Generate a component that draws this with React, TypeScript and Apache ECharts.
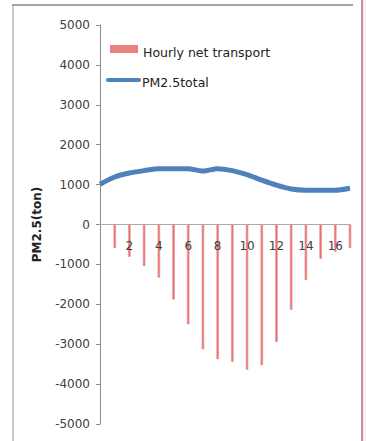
import React, { useEffect, useRef } from "react";
import * as echarts from "echarts";

// Hour index along the x axis
const hours = ["0", "1", "2", "3", "4", "5", "6", "7", "8", "9", "10", "11", "12", "13", "14", "15", "16", "17"];
// Hourly net transport of PM2.5 (ton); no value for the starting hour
const netTransport: (number | null)[] = [
  null, -585, -810, -1040, -1330, -1880, -2500, -3125, -3375, -3440, -3640,
  -3525, -2940, -2140, -1390, -860, -680, -585,
];
// Total PM2.5 mass (ton)
const pm25Total = [
  1010, 1190, 1290, 1350, 1400, 1400, 1400, 1340, 1400, 1350, 1250, 1110, 985,
  890, 860, 860, 860, 910,
];
const yTicks = { min: -5000, max: 5000, interval: 1000 };
const legendNames = ["Hourly net transport", "PM2.5total"];

const FONT = "DejaVu Sans";
const GRID_TOP = 25;
const GRID_BOTTOM = 17;
const CHART_H = 441;

export default function App() {
  const ref = useRef<HTMLDivElement>(null);

  useEffect(() => {
    if (!ref.current) return;
    const chart = echarts.init(ref.current, undefined, { renderer: "svg" });

    const barColor = new echarts.graphic.LinearGradient(0, 0, 1, 0, [
      { offset: 0, color: "#f7c4c4" },
      { offset: 0.5, color: "#e56a6a" },
      { offset: 1, color: "#f7c4c4" },
    ]);

    // the category axis sits on the zero line, halfway up the symmetric value range
    const plotH = CHART_H - GRID_TOP - GRID_BOTTOM;
    const zeroOffset =
      -plotH * ((0 - yTicks.min) / (yTicks.max - yTicks.min));

    chart.setOption({
      animation: false,
      backgroundColor: "#ffffff",
      grid: {
        left: 100,
        right: 16,
        top: GRID_TOP,
        bottom: GRID_BOTTOM,
        containLabel: false,
        outerBoundsMode: "none",
      },
      xAxis: {
        type: "category",
        data: hours,
        boundaryGap: false,
        position: "bottom",
        offset: zeroOffset,
        z: 10,
        splitLine: { show: false },
        axisLine: { onZero: false, lineStyle: { color: "#aaaaaa", width: 1 } },
        axisTick: { show: false },
        axisLabel: {
          margin: 15,
          color: "#404040",
          fontFamily: FONT,
          fontSize: 12,
          interval: (index: number) => index > 0 && index % 2 === 0,
        },
      },
      yAxis: {
        type: "value",
        min: yTicks.min,
        max: yTicks.max,
        interval: yTicks.interval,
        splitLine: { show: false },
        axisLine: { show: true, onZero: false, lineStyle: { color: "#8c8c8c", width: 1 } },
        axisTick: { show: true, length: 4, lineStyle: { color: "#8c8c8c" } },
        axisLabel: {
          margin: 10,
          color: "#404040",
          fontFamily: FONT,
          fontSize: 12,
          formatter: (v: number) => String(v),
        },
        name: "PM2.5(ton)",
        nameLocation: "middle",
        nameGap: 57,
        nameTextStyle: {
          fontFamily: FONT,
          fontSize: 12,
          fontWeight: "bold",
          color: "#222222",
        },
      },
      series: [
        {
          name: legendNames[0],
          type: "bar",
          barWidth: 3,
          itemStyle: { color: barColor },
          data: netTransport,
        },
        {
          name: legendNames[1],
          type: "line",
          symbol: "none",
          smooth: 0.25,
          lineStyle: { color: "#4f81bd", width: 5, cap: "butt", join: "round" },
          data: pm25Total,
        },
      ],
      graphic: [
        // outer frame pieces
        { type: "rect", shape: { x: 12, y: 4, width: 2, height: 437 }, style: { fill: "#cccccc" }, silent: true },
        { type: "rect", shape: { x: 12, y: 4, width: 341, height: 2 }, style: { fill: "#a2a2a2" }, silent: true },
        { type: "rect", shape: { x: 361, y: 0, width: 2, height: 441 }, style: { fill: "#d9879a" }, silent: true },
        { type: "rect", shape: { x: 363, y: 0, width: 3, height: 441 }, style: { fill: "#f2f2f2" }, silent: true },
        // legend
        {
          type: "rect",
          shape: { x: 110, y: 45, width: 28, height: 8 },
          style: { fill: "#ec8181" },
        },
        {
          type: "text",
          x: 143,
          y: 52,
          style: { text: legendNames[0], font: `12.5px '${FONT}'`, fill: "#222222", verticalAlign: "middle" },
        },
        {
          type: "line",
          shape: { x1: 108, y1: 80, x2: 139, y2: 80 },
          style: { stroke: "#4f81bd", lineWidth: 4, lineCap: "round" },
        },
        {
          type: "text",
          x: 142,
          y: 82,
          style: { text: legendNames[1], font: `12.5px '${FONT}'`, fill: "#222222", verticalAlign: "middle" },
        },
      ],
    });

    return () => chart.dispose();
  }, []);

  return (
    <div
      ref={ref}
      style={{ position: "fixed", left: 0, top: 0, width: 366, height: CHART_H }}
    />
  );
}
